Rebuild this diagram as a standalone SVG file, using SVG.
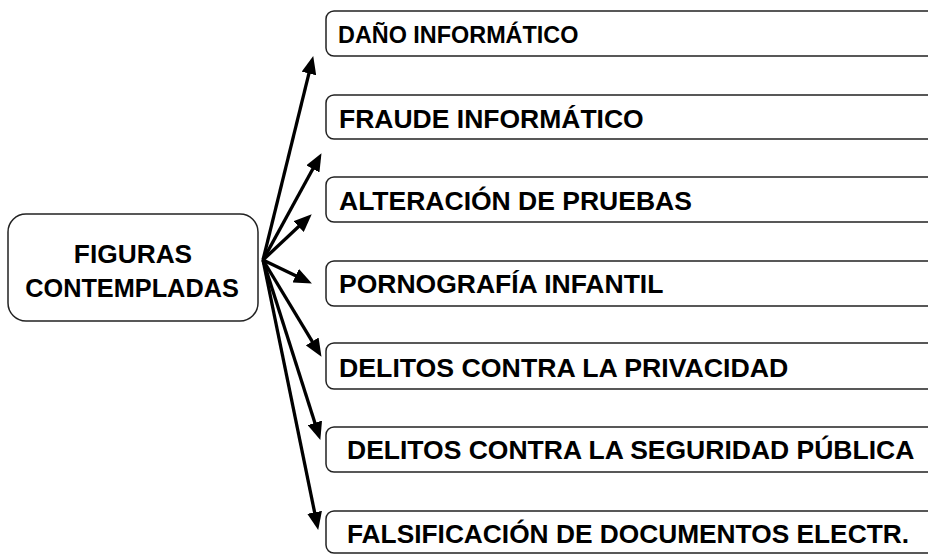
<svg xmlns="http://www.w3.org/2000/svg" width="928" height="554" viewBox="0 0 928 554">
<style>
.box{fill:#fff;stroke:#222;stroke-width:1.5}
.t{font-family:"Liberation Sans",Arial,sans-serif;font-weight:bold;fill:#000}
.c{stroke:#000;stroke-width:3.3;fill:none;marker-end:url(#ah)}
</style>
<defs>
<marker id="ah" markerUnits="userSpaceOnUse" markerWidth="18" markerHeight="15" viewBox="0 0 18 15" refX="7" refY="7.5" orient="auto">
<path d="M0,0 L18,7.5 L0,15 z" fill="#000"/>
</marker>
</defs>
<rect width="928" height="554" fill="#fff"/>
<g id="center">
<rect class="box" x="8" y="214" width="250" height="107" rx="18"/>
<text class="t" x="133" y="263" font-size="26.3" text-anchor="middle">FIGURAS</text>
<text class="t" x="132" y="297" font-size="25.3" text-anchor="middle">CONTEMPLADAS</text>
</g>
<g id="n1"><rect class="box" x="326" y="11" width="640" height="45" rx="8"/><text class="t" x="338" y="43" font-size="23.4">DAÑO INFORMÁTICO</text></g>
<g id="n2"><rect class="box" x="326" y="95" width="640" height="44" rx="8"/><text class="t" x="339" y="128" font-size="26.5">FRAUDE INFORMÁTICO</text></g>
<g id="n3"><rect class="box" x="326" y="177" width="640" height="45" rx="8"/><text class="t" x="339" y="210" font-size="26.5">ALTERACIÓN DE PRUEBAS</text></g>
<g id="n4"><rect class="box" x="326" y="261" width="640" height="45" rx="8"/><text class="t" x="339" y="293" font-size="26.5">PORNOGRAFÍA INFANTIL</text></g>
<g id="n5"><rect class="box" x="326" y="343" width="640" height="46" rx="8"/><text class="t" x="339" y="377" font-size="26.7">DELITOS CONTRA LA PRIVACIDAD</text></g>
<g id="n6"><rect class="box" x="326" y="427" width="640" height="45" rx="8"/><text class="t" x="347" y="459" font-size="26.5">DELITOS CONTRA LA SEGURIDAD PÚBLICA</text></g>
<g id="n7"><rect class="box" x="326" y="511" width="640" height="42" rx="8"/><text class="t" x="347" y="543" font-size="26.3">FALSIFICACIÓN DE DOCUMENTOS ELECTR.</text></g>
<g id="connectors">
<line class="c" x1="263" y1="260" x2="310.6" y2="66.7"/>
<line class="c" x1="263" y1="260" x2="316.2" y2="162.8"/>
<line class="c" x1="263" y1="260" x2="303.7" y2="221.8"/>
<line class="c" x1="263" y1="260" x2="302.0" y2="278.7"/>
<line class="c" x1="263" y1="260" x2="315.8" y2="347.4"/>
<line class="c" x1="263" y1="260" x2="317.0" y2="429.5"/>
<line class="c" x1="263" y1="260" x2="316.0" y2="519.2"/>
</g>
</svg>
